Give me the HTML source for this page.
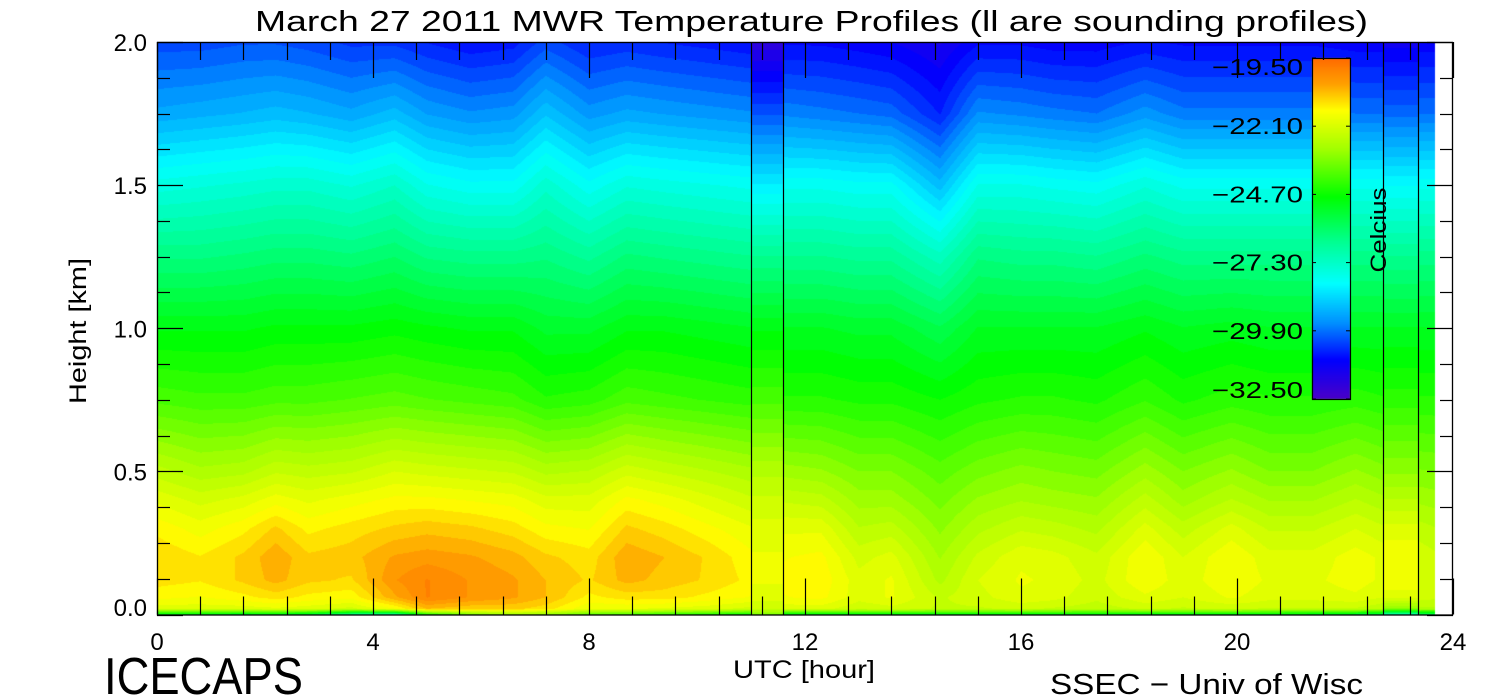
<!DOCTYPE html>
<html><head><meta charset="utf-8">
<style>
html,body{margin:0;padding:0;background:#fff;width:1500px;height:700px;overflow:hidden}
#wrap{position:relative;width:1500px;height:700px}
canvas,svg{position:absolute;left:0;top:0}
text{font-family:"Liberation Sans",sans-serif;fill:#000}
</style></head>
<body>
<div id="wrap">
<canvas id="heat" width="1500" height="700"></canvas>
<svg id="ov" width="1500" height="700"></svg>
</div>
<script>
// ---- data ----
const heights = [0,0.02,0.06,0.12,0.2,0.3,0.4,0.5,0.75,1.0,1.25,1.5,1.75,2.0];
const times = [0,0.8,1.6,2.2,2.8,3.6,4.4,5.0,5.8,6.6,7.2,8.0,8.7,9.4,10.2,11.0,11.6,12.3,13.0,13.6,14.5,15.2,16.0,16.6,17.4,18.3,19.0,19.9,20.6,21.4,22.2,22.7,23.67];
const temps = [
[-25.0,-22.0,-21.5,-21.2,-21.1,-21.4,-21.9,-22.5,-24.0,-25.0,-26.3,-27.7,-29.3,-30.3],
[-25.2,-22.0,-21.6,-21.3,-21.3,-21.7,-22.2,-22.8,-24.1,-25.0,-26.3,-27.6,-29.2,-30.3],
[-25.3,-22.0,-21.4,-21.0,-21.0,-21.4,-22.0,-22.7,-24.1,-25.0,-26.2,-27.5,-29.1,-30.2],
[-25.2,-21.9,-21.2,-20.7,-20.6,-21.0,-21.7,-22.4,-24.0,-24.9,-26.1,-27.4,-29.0,-30.2],
[-25.5,-22.0,-21.4,-21.0,-21.0,-21.4,-21.9,-22.5,-24.0,-24.9,-26.1,-27.4,-29.1,-30.3],
[-26.5,-22.2,-21.5,-21.1,-20.9,-21.2,-21.7,-22.4,-23.9,-24.9,-26.2,-27.6,-29.3,-30.5],
[-26.8,-21.6,-20.6,-20.3,-20.5,-21.0,-21.5,-22.1,-23.8,-24.8,-26.0,-27.3,-29.0,-30.5],
[-24.5,-20.8,-20.0,-20.0,-20.4,-20.9,-21.5,-22.2,-23.9,-24.9,-26.3,-27.8,-29.4,-30.7],
[-23.5,-21.0,-20.3,-20.3,-20.5,-21.0,-21.6,-22.3,-24.0,-25.0,-26.4,-28.0,-29.6,-30.9],
[-23.0,-21.0,-20.5,-20.5,-20.7,-21.2,-21.7,-22.4,-24.1,-25.0,-26.4,-28.0,-29.5,-30.8],
[-23.2,-21.2,-20.8,-20.8,-21.0,-21.5,-22.0,-22.7,-24.4,-25.3,-26.3,-27.4,-28.9,-30.3],
[-23.8,-21.8,-21.4,-21.1,-21.2,-21.6,-22.0,-22.6,-24.3,-25.3,-26.6,-28.0,-29.5,-30.7],
[-24.0,-21.8,-21.2,-20.7,-20.6,-21.0,-21.5,-22.2,-24.0,-25.0,-26.2,-27.6,-29.3,-30.6],
[-24.3,-21.9,-21.2,-20.9,-20.8,-21.2,-21.7,-22.4,-24.1,-25.0,-26.3,-27.7,-29.4,-30.7],
[-24.5,-22.0,-21.4,-21.1,-21.1,-21.5,-22.0,-22.6,-24.2,-25.1,-26.4,-27.8,-29.5,-30.8],
[-24.8,-22.2,-21.6,-21.4,-21.5,-21.8,-22.3,-22.8,-24.3,-25.2,-26.5,-27.9,-29.6,-30.9],
[-25.0,-22.0,-21.6,-21.5,-21.6,-21.9,-22.4,-23.0,-24.4,-25.2,-26.5,-27.9,-29.7,-31.0],
[-25.0,-22.0,-21.5,-21.4,-21.5,-21.9,-22.5,-23.1,-24.4,-25.2,-26.5,-27.9,-29.8,-31.0],
[-25.0,-22.3,-22.0,-22.0,-22.2,-22.6,-23.0,-23.4,-24.5,-25.3,-26.6,-28.0,-29.9,-31.1],
[-25.0,-22.2,-21.8,-21.8,-22.0,-22.5,-23.0,-23.4,-24.5,-25.3,-26.6,-28.0,-30.0,-31.2],
[-25.0,-22.4,-22.4,-22.7,-22.9,-23.2,-23.5,-23.8,-24.7,-25.7,-27.2,-29.0,-30.7,-31.5],
[-25.0,-22.4,-22.2,-22.1,-22.3,-22.7,-23.1,-23.5,-24.5,-25.2,-26.3,-27.8,-29.6,-31.0],
[-25.0,-22.3,-21.9,-21.8,-21.9,-22.4,-22.9,-23.3,-24.4,-25.2,-26.4,-27.8,-29.7,-31.0],
[-25.0,-22.4,-22.0,-21.9,-22.0,-22.5,-23.0,-23.4,-24.4,-25.2,-26.4,-27.9,-29.8,-31.1],
[-25.0,-22.5,-22.3,-22.2,-22.3,-22.7,-23.1,-23.5,-24.5,-25.2,-26.5,-28.0,-29.9,-31.1],
[-25.0,-22.3,-21.9,-21.6,-21.6,-22.0,-22.5,-23.0,-24.2,-25.0,-26.2,-27.6,-29.5,-30.9],
[-25.0,-22.4,-22.1,-22.0,-22.1,-22.5,-23.0,-23.4,-24.5,-25.2,-26.4,-27.9,-29.8,-31.0],
[-25.0,-22.3,-21.8,-21.6,-21.6,-22.0,-22.6,-23.1,-24.3,-25.1,-26.4,-27.9,-29.8,-31.0],
[-25.1,-22.4,-22.0,-21.9,-22.0,-22.4,-22.9,-23.4,-24.4,-25.2,-26.4,-27.9,-29.8,-31.0],
[-25.2,-22.4,-22.0,-21.9,-22.0,-22.4,-22.9,-23.4,-24.4,-25.2,-26.4,-27.9,-29.8,-31.0],
[-25.5,-22.4,-21.9,-21.7,-21.7,-22.1,-22.6,-23.1,-24.3,-25.2,-26.4,-27.9,-29.9,-31.1],
[-25.8,-22.6,-22.1,-21.9,-21.9,-22.3,-22.8,-23.3,-24.4,-25.2,-26.4,-27.9,-29.9,-31.1],
[-26.0,-22.7,-22.3,-22.2,-22.3,-22.6,-23.0,-23.4,-24.4,-25.2,-26.4,-27.9,-29.9,-31.1]
];
const soundingTimes = [[11.0,11.6],[22.7,23.35]];
const soundingProfiles = [
[-23.5,-22.3,-22.0,-21.8,-21.8,-22.0,-22.3,-22.7,-24.0,-25.0,-26.5,-28.3,-30.2,-31.9],
[-27.0,-23.2,-22.0,-21.6,-21.6,-22.0,-22.6,-23.2,-24.3,-25.2,-26.5,-28.1,-30.0,-31.3]
];
const xTicks = [0,4,8,12,16,20,24];
const yTicks = [0.0,0.5,1.0,1.5,2.0];
const cbLabels = ["−19.50","−22.10","−24.70","−27.30","−29.90","−32.50"];
const cbValues = [-19.5,-22.1,-24.7,-27.3,-29.9,-32.5];

// ---- scales ----
const X0=157,X1=1453,Y0=42,Y1=614.5;
const xs=t=>X0+(X1-X0)*t/24;
const ys=h=>Y1-(Y1-Y0)*h/2;
const it=x=>(x-X0)*24/(X1-X0);
const ih=y=>(Y1-y)*2/(Y1-Y0);
const stops=[[-19.5,[255,106,0]],[-20.5,[255,160,0]],[-21.5,[255,255,0]],[-23.0,[160,255,0]],[-24.8,[0,255,0]],[-26.5,[0,255,144]],[-28.1,[0,255,255]],[-29.6,[0,144,255]],[-31.0,[0,0,255]],[-32.5,[74,0,200]]];
function col(T){
  T=Math.max(-32.5,Math.min(-19.5,T));
  for(let i=0;i<stops.length-1;i++){
    const a=stops[i],b=stops[i+1];
    if(T<=a[0]&&T>=b[0]){const f=(a[0]-T)/(a[0]-b[0]);return a[1].map((v,k)=>Math.round(v+(b[1][k]-v)*f));}
  }
  return stops[stops.length-1][1];
}
const STEP=0.26;
function q(T){return -19.5-Math.floor((-19.5-T)/STEP)*STEP-STEP/2;}
function profAt(p,h){
  let j=0;while(j<heights.length-2&&h>heights[j+1])j++;
  const f=Math.max(0,Math.min(1,(h-heights[j])/(heights[j+1]-heights[j])));
  return p[j]+(p[j+1]-p[j])*f;
}
function interp(t,h){
  let i=0;while(i<times.length-2&&t>times[i+1])i++;
  const f=Math.max(0,Math.min(1,(t-times[i])/(times[i+1]-times[i])));
  const a=profAt(temps[i],h),b=profAt(temps[i+1],h);
  return a+(b-a)*f;
}
// ---- heatmap ----
const cv=document.getElementById('heat');const ctx=cv.getContext('2d');
const img=ctx.createImageData(1500,700);
const tMax=times[times.length-1];
for(let py=Math.ceil(Y0);py<Math.round(Y1);py++){
  const h=ih(py+0.5);
  for(let px=X0;px<1500;px++){
    const t=it(px+0.5);if(t>tMax)break;
    let T=null;
    for(let s=0;s<soundingTimes.length;s++){if(t>=soundingTimes[s][0]&&t<soundingTimes[s][1]){T=profAt(soundingProfiles[s],h);}}
    if(T===null)T=interp(t,h);
    const c=col(q(T));const k=(py*1500+px)*4;
    img.data[k]=c[0];img.data[k+1]=c[1];img.data[k+2]=c[2];img.data[k+3]=255;
  }
}
ctx.putImageData(img,0,0);
// colorbar
const CBX=1312,CBW=38,CBT=58,CBB=399;
for(let y=CBT;y<CBB;y++){const T=-19.5-13*(y-CBT+0.5)/(CBB-CBT);const c=col(T);ctx.fillStyle=`rgb(${c[0]},${c[1]},${c[2]})`;ctx.fillRect(CBX,y,CBW,1);}

// ---- overlay ----
const NS='http://www.w3.org/2000/svg';const svg=document.getElementById('ov');
function mk(tag,attrs,txt){const e=document.createElementNS(NS,tag);for(const k in attrs)e.setAttribute(k,attrs[k]);if(txt!==undefined)e.textContent=txt;svg.appendChild(e);return e;}
let e;
e=mk('rect',{x:X0+0.5,y:Y0+0.5,width:X1-X0-1,height:Y1-Y0,fill:'none',stroke:'#000','stroke-width':1.3});


soundingTimes.forEach(p=>p.forEach(t=>{
  const l=mk('line',{x1:Math.round(xs(t))+0.5,x2:Math.round(xs(t))+0.5,y1:Y0,y2:Y1,stroke:'#000','stroke-width':1.2});
  
  
}));
for(let t=0;t<=24.001;t+=0.8){
  const maj=Math.abs(t/4-Math.round(t/4))<0.01;const L=maj?36:18;const x=Math.round(xs(t))+0.5;
  const a=mk('line',{x1:x,x2:x,y1:Y1,y2:Y1-L,stroke:'#000','stroke-width':1.2});
  
  
  const b=mk('line',{x1:x,x2:x,y1:Y0,y2:Y0+L,stroke:'#000','stroke-width':1.2});
  
  
}
xTicks.forEach(v=>{
  const tx=mk('text',{x:xs(v),y:650,'font-size':24,'text-anchor':'middle'},String(v));
  
  
});
for(let h=0;h<=2.0001;h+=0.125){
  const maj=Math.abs(h/0.5-Math.round(h/0.5))<0.01;const L=maj?26:13;const y=Math.round(ys(h))+0.5;
  const a=mk('line',{x1:X0,x2:X0+L,y1:y,y2:y,stroke:'#000','stroke-width':1.2});
  
  
  const b=mk('line',{x1:X1,x2:X1-L,y1:y,y2:y,stroke:'#000','stroke-width':1.2});
  
  
}
yTicks.forEach(v=>{
  const y=Math.min(ys(v)+9,616);
  const tx=mk('text',{x:147,y:y,'font-size':24,'text-anchor':'end'},v.toFixed(1));
  
  
});
e=mk('rect',{x:CBX+0.5,y:CBT+0.5,width:CBW,height:CBB-CBT,fill:'none',stroke:'#000','stroke-width':1.2});


cbValues.forEach((v,i)=>{
  const y=CBT+(CBB-CBT)*(-19.5-v)/13;
  const a=mk('line',{x1:CBX,x2:CBX+4,y1:y,y2:y,stroke:'#000'});
  
  
  const b=mk('line',{x1:CBX+CBW,x2:CBX+CBW-4,y1:y,y2:y,stroke:'#000'});
  
  
  const ly=Math.max(67,Math.min(390,y))+8;
  const tx=mk('text',{x:1303,y:ly,'font-size':23,'text-anchor':'end',textLength:91,lengthAdjust:'spacingAndGlyphs'},cbLabels[i]);
  
  
});
e=mk('text',{x:0,y:0,'font-size':22,'text-anchor':'middle',transform:'translate(1386,230) rotate(-90)',textLength:85,lengthAdjust:'spacingAndGlyphs'},'Celcius');


e=mk('text',{x:255,y:31,'font-size':29,textLength:1113,lengthAdjust:'spacingAndGlyphs'},'March 27 2011 MWR Temperature Profiles (ll are sounding profiles)');


e=mk('text',{x:0,y:0,'font-size':24,'text-anchor':'middle',transform:'translate(86,331) rotate(-90)',textLength:146,lengthAdjust:'spacingAndGlyphs'},'Height [km]');


e=mk('text',{x:733,y:678,'font-size':25,textLength:142,lengthAdjust:'spacingAndGlyphs'},'UTC [hour]');


e=mk('text',{x:104,y:694,'font-size':52,textLength:199,lengthAdjust:'spacingAndGlyphs'},'ICECAPS');


e=mk('text',{x:1050,y:694,'font-size':29,textLength:313,lengthAdjust:'spacingAndGlyphs'},'SSEC − Univ of Wisc');


</script>
</body></html>
